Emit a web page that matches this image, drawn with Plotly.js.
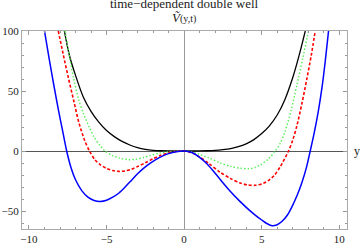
<!DOCTYPE html>
<html>
<head>
<meta charset="utf-8">
<script src="https://cdn.plot.ly/plotly-3.0.1.min.js"></script>
<style>html,body{margin:0;padding:0;background:#fff;}#chart{width:360px;height:245px;}</style>
</head>
<body>
<div id="chart"></div>
<script>
// Values
const xBlack = [-7.72, -7.4, -7.0, -6.5, -6.0, -5.5, -5.0, -4.5, -4.0, -3.5, -3.0, -2.5, -2.0, -1.5, -1.0, 0, 1.0, 1.5, 2.0, 2.5, 3.0, 3.5, 4.0, 4.5, 5.0, 5.5, 6.0, 6.5, 7.0, 7.4, 7.81];
const vBlack = [100, 80, 63, 45, 33, 24, 17, 12, 8, 5, 2.8, 1.4, 0.6, 0.2, 0.05, 0, 0.05, 0.2, 0.5, 1.1, 2, 3.6, 6, 9.5, 14.5, 21, 30, 43, 61, 79, 100];

const xGreen = [-7.68, -7.4, -7.14, -6.8, -6.5, -6.1, -5.8, -5.42, -5.1, -4.6, -4.13, -3.6, -3.1, -2.6, -2.2, -1.6, -1.1, -0.5, 0, 0.5, 1.03, 1.6, 2.3, 3.0, 3.6, 4.2, 4.6, 4.9, 5.4, 5.87, 6.2, 6.5, 6.9, 7.27, 7.65, 8.02];
const vGreen = [100, 79.5, 61.5, 43, 31.5, 19.5, 11.5, 4.5, 0, -3.8, -6, -7.2, -6.9, -5.4, -3.8, -1.8, -0.8, -0.15, 0, -0.8, -3, -5.8, -9.8, -12.8, -14.3, -14.7, -13.5, -11.8, -7, 0, 6.5, 16, 34, 55, 77.5, 100];

const xRed = [-8.11, -7.8, -7.46, -7.1, -6.77, -6.4, -6.1, -5.74, -5.4, -5.0, -4.6, -4.2, -3.8, -3.4, -3.0, -2.5, -2.0, -1.5, -1.0, -0.5, 0, 0.5, 1.0, 1.6, 2.3, 3.0, 3.6, 4.1, 4.6, 5.1, 5.5, 5.8, 6.2, 6.73, 7.0, 7.27, 7.6, 7.91, 8.2, 8.45];
const vRed = [100, 81, 61, 41, 23, 8.5, 0, -7.5, -11.5, -14.5, -16.3, -17, -16.6, -15.2, -13, -9.8, -6.5, -3.6, -1.5, -0.35, 0, -1.5, -5, -10.5, -17.5, -23, -26.6, -28.3, -28.6, -27, -24, -20.5, -13, 0, 9, 21, 40, 60, 80, 100];

const xBlue = [-9.0, -8.7, -8.4, -8.1, -7.85, -7.57, -7.3, -7.0, -6.6, -6.2, -5.8, -5.4, -5.0, -4.6, -4.2, -3.8, -3.4, -3.0, -2.6, -2.2, -1.8, -1.4, -1.0, -0.5, 0, 0.5, 1.0, 1.5, 2.0, 2.5, 3.0, 3.6, 4.2, 4.6, 5.0, 5.3, 5.66, 6.0, 6.3, 6.65, 6.95, 7.3, 7.6, 7.9, 8.13, 8.4, 8.65, 8.9, 9.1, 9.31];
const vBlue = [100, 77, 55, 34, 18, 0, -13.5, -24, -33, -38.5, -41.2, -42, -41, -38.5, -35, -30, -24.5, -19, -14.3, -10.3, -7, -4.3, -2.2, -0.55, 0, -1.3, -5.3, -11, -18.5, -26.5, -34, -42, -49.3, -53.6, -57.5, -60.2, -62.2, -61.4, -58.8, -53.5, -46.5, -36.5, -26, -13, 0, 16, 33, 54, 75, 100];

const xTickVals = [-10, -5, 0, 5, 10];
const yTickVals = [-50, 0, 50, 100];

const serif = "Liberation Serif, Times New Roman, serif";

const traces = [
  {x: xBlack, y: vBlack, mode: 'lines', line: {color: '#000000', width: 1.3, shape: 'spline', smoothing: 0.8}},
  {x: xGreen, y: vGreen, mode: 'lines', line: {color: '#55ee55', width: 1.4, dash: '1.5px,2px', shape: 'spline', smoothing: 0.8}},
  {x: xRed, y: vRed, mode: 'lines', line: {color: '#ff0000', width: 1.6, dash: '3px,2px', shape: 'spline', smoothing: 0.8}},
  {x: xBlue, y: vBlue, mode: 'lines', line: {color: '#0000ff', width: 1.5, shape: 'spline', smoothing: 0.8}}
];

const axisCommon = {
  showline: true, linecolor: '#aaaaaa', linewidth: 1, mirror: 'allticks',
  ticks: 'inside', ticklen: 4, tickcolor: '#999999', tickwidth: 1,
  showgrid: false, zeroline: true, zerolinewidth: 1,
  tickfont: {family: serif, size: 11, color: '#222222'},
  fixedrange: true
};

const layout = {
  width: 360, height: 245,
  margin: {l: 22, r: 13, t: 31, b: 16},
  paper_bgcolor: '#ffffff', plot_bgcolor: '#ffffff',
  showlegend: false,
  xaxis: Object.assign({}, axisCommon, {
    range: [-10.45, 10.5], tickvals: xTickVals, zerolinecolor: '#999999',
    minor: {dtick: 1, tick0: 0, ticks: 'inside', ticklen: 2, tickcolor: '#999999', showgrid: false}
  }),
  yaxis: Object.assign({}, axisCommon, {
    range: [-65, 100], tickvals: yTickVals, zerolinecolor: '#555555',
    minor: {dtick: 10, tick0: 0, ticks: 'inside', ticklen: 2, tickcolor: '#999999', showgrid: false}
  }),
  annotations: [
    {text: 'time\u2212dependent double well', xref: 'paper', yref: 'paper', x: 0.5, y: 1.141,
     xanchor: 'center', yanchor: 'middle', showarrow: false, font: {family: serif, size: 13, color: '#222'}},
    {text: '<i>V\u0303</i><span style="font-size:10px">(y,t)</span>', xref: 'paper', yref: 'paper', x: 0.497, y: 1.066,
     xanchor: 'center', yanchor: 'middle', showarrow: false, font: {family: serif, size: 13, color: '#222'}},
    {text: 'y', xref: 'paper', yref: 'y', x: 1.0, y: 0, xanchor: 'left', yanchor: 'middle', xshift: 5,
     showarrow: false, font: {family: serif, size: 12, color: '#222'}}
  ]
};

Plotly.newPlot('chart', traces, layout, {staticPlot: true, displayModeBar: false});
</script>
</body>
</html>
